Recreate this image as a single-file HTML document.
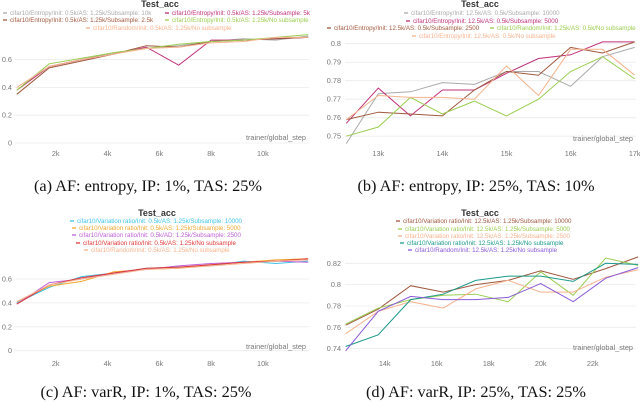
<!DOCTYPE html>
<html><head><meta charset="utf-8"><style>
html,body{margin:0;padding:0;background:#fff;}
svg{display:block;font-family:"Liberation Sans",sans-serif;}
.cap{font-family:"Liberation Serif",serif;font-size:16.3px;fill:#111;}
.tk{font-size:7.3px;fill:#777;}
.lg{font-size:6.2px;}
.ttl{font-size:9px;fill:#333;font-weight:bold;}
</style></head><body>
<svg id="fig" width="640" height="402" viewBox="0 0 640 402"></svg>
<script>
// ---- data ----
const stepsA = [0.5,1.75,3,4.25,5.5,6.75,8,9.25,10.5,11.75];
const stepsB = [12.5,13,13.5,14,14.5,15,15.5,16,16.5,17];
const stepsD = [12.5,13.75,15,16.25,17.5,18.75,20,21.25,22.5,23.75];
const aGray  = [0.38,0.55,0.60,0.65,0.68,0.70,0.73,0.75,0.74,0.77];
const aPink  = [0.38,0.55,0.60,0.64,0.69,0.56,0.74,0.74,0.75,0.76];
const aBrown = [0.35,0.54,0.59,0.64,0.70,0.69,0.73,0.74,0.75,0.76];
const aGreen = [0.38,0.57,0.61,0.65,0.68,0.71,0.73,0.74,0.76,0.78];
const aBeige = [0.40,0.55,0.60,0.64,0.68,0.69,0.72,0.73,0.76,0.76];
const bGray  = [0.746,0.773,0.774,0.779,0.778,0.785,0.785,0.777,0.793,0.798];
const bPink  = [0.757,0.776,0.761,0.775,0.775,0.784,0.792,0.794,0.801,0.801];
const bBrown = [0.759,0.763,0.762,0.761,0.775,0.785,0.783,0.798,0.795,0.801];
const bGreen = [0.750,0.755,0.771,0.762,0.769,0.761,0.770,0.785,0.793,0.781];
const bBeige = [0.759,0.772,0.771,0.771,0.770,0.788,0.772,0.797,0.797,0.783];
const cCyan  = [0.40,0.53,0.62,0.65,0.69,0.70,0.71,0.75,0.73,0.75];
const cOrange= [0.41,0.54,0.58,0.66,0.68,0.69,0.72,0.74,0.76,0.77];
const cPurple= [0.39,0.57,0.60,0.65,0.68,0.71,0.73,0.74,0.75,0.74];
const cRed   = [0.39,0.55,0.61,0.65,0.69,0.70,0.72,0.74,0.75,0.77];
const cBeige = [0.41,0.55,0.60,0.64,0.68,0.69,0.71,0.73,0.75,0.76];
const dBrown = [0.762,0.777,0.799,0.793,0.800,0.804,0.813,0.805,0.815,0.826];
const dGreen = [0.763,0.778,0.786,0.790,0.791,0.784,0.812,0.790,0.825,0.818];
const dBeige = [0.754,0.775,0.784,0.778,0.796,0.804,0.793,0.793,0.807,0.814];
const dTeal  = [0.742,0.753,0.786,0.791,0.804,0.808,0.808,0.803,0.820,0.819];
const dPurple= [0.738,0.775,0.789,0.786,0.786,0.788,0.801,0.784,0.806,0.816];
const yTicksA = [0,0.2,0.4,0.6];
const yTicksB = [0.75,0.76,0.77,0.78,0.79,0.8];
const yTicksD = [0.74,0.76,0.78,0.8,0.82];
const xTicksA = [2,4,6,8,10];
const xTicksB = [13,14,15,16,17];
const xTicksD = [14,16,18,20,22];

const NS="http://www.w3.org/2000/svg", svg=document.getElementById('fig');
function el(t,a,p){const e=document.createElementNS(NS,t);for(const k in a)e.setAttribute(k,a[k]);(p||svg).appendChild(e);return e;}

function panel(P){
  const g=el('g',{});
  
  
  const X=P.x, Y=P.y;
  P.yt.forEach(v=>{
    const l=el('line',{x1:P.l,x2:P.r,y1:Y(v),y2:Y(v),stroke:'#ececec','stroke-width':0.8},g);
    
    
    const t=el('text',{x:P.yl,y:Y(v)+2.5,'text-anchor':'end',class:'tk'},g);
    t.textContent=P.fmt(v);
    
    
  });
  P.xt.forEach(v=>{
    const t=el('text',{x:X(v),y:P.xly,'text-anchor':'middle',class:'tk'},g);
    t.textContent=v+'k';
    
    
  });
  const xl=el('text',{x:P.r-3,y:P.xay,'text-anchor':'end',class:'tk'},g);
  xl.textContent='trainer/global_step';
  
  
  const tt=el('text',{x:P.tx,y:P.ty,'text-anchor':'middle',class:'ttl'},g);
  tt.textContent='Test_acc';
  
  
  P.series.forEach(s=>{
    const pts=s.v.map((v,i)=>X(P.steps[i]).toFixed(1)+','+Y(v).toFixed(1)).join(' ');
    const pl=el('polyline',{points:pts,fill:'none',stroke:s.c,'stroke-width':1},g);
    
    
    const lg=el('g',{},g);
    
    
    el('line',{x1:s.lx,x2:s.lx+4,y1:s.ly-2,y2:s.ly-2,stroke:s.c,'stroke-width':1.3},lg);
    const lt=el('text',{x:s.lx+7,y:s.ly,class:'lg',fill:s.c},lg);
    lt.textContent=s.n;
  });
  const cp=el('text',{x:P.cx,y:P.cy,'text-anchor':'middle',class:'cap'},g);
  cp.textContent=P.cap;
  
  
}
const f1=v=>v===0?'0':v.toFixed(1), f2=v=>String(+v.toFixed(2));
panel({name:'panel-a',l:14,r:309,yl:12,x:k=>3.9+k*25.9,y:v=>143-v*139,yt:yTicksA,xt:xTicksA,fmt:f1,xly:156,xay:140,tx:160,ty:7,steps:stepsA,cx:148,cy:191,cap:'(a) AF: entropy, IP: 1%, TAS: 25%',
 series:[
 {n:'cifar10/Entropy/Init: 0.5k/AS: 1.25k/Subsample: 10k',c:'#aaaaaa',v:aGray,lx:3,ly:15},
 {n:'cifar10/Entropy/Init: 0.5k/AS: 1.25k/Subsample: 5k',c:'#c0307a',v:aPink,lx:165,ly:15},
 {n:'cifar10/Entropy/Init: 0.5k/AS: 1.25k/Subsample: 2.5k',c:'#a0583e',v:aBrown,lx:3,ly:22},
 {n:'cifar10/Entropy/Init: 0.5k/AS: 1.25k/No subsample',c:'#9acd50',v:aGreen,lx:165,ly:22},
 {n:'cifar10/Random/Init: 0.5k/AS: 1.25k/No subsample',c:'#f6b38e',v:aBeige,lx:86,ly:30}]});
panel({name:'panel-b',l:345,r:636,yl:341,x:k=>378.3+(k-13)*64.1,y:v=>43.7+(0.8-v)*1850,yt:yTicksB,xt:xTicksB,fmt:f2,xly:156,xay:141,tx:480,ty:7,steps:stepsB,cx:476,cy:191,cap:'(b) AF: entropy, IP: 25%, TAS: 10%',
 series:[
 {n:'cifar10/Entropy/Init: 12.5k/AS: 0.5k/Subsample: 10000',c:'#aaaaaa',v:bGray,lx:404,ly:15},
 {n:'cifar10/Entropy/Init: 12.5k/AS: 0.5k/Subsample: 5000',c:'#c0307a',v:bPink,lx:406,ly:23},
 {n:'cifar10/Entropy/Init: 12.5k/AS: 0.5k/Subsample: 2500',c:'#a0583e',v:bBrown,lx:327,ly:30},
 {n:'cifar10/Random/Init: 1.25k/AS: 0.5k/No subsample',c:'#9acd50',v:bGreen,lx:490,ly:30},
 {n:'cifar10/Entropy/Init: 12.5k/AS: 0.5k/No subsample',c:'#f6b38e',v:bBeige,lx:412,ly:38}]});
panel({name:'panel-c',l:14,r:309,yl:12,x:k=>3.9+k*25.9,y:v=>350.7-v*119.5,yt:yTicksA,xt:xTicksA,fmt:f1,xly:366,xay:349,tx:157,ty:216,steps:stepsA,cx:146,cy:397,cap:'(c) AF: varR, IP: 1%, TAS: 25%',
 series:[
 {n:'cifar10/Variation ratio/Init: 0.5k/AS: 1.25k/Subsample: 10000',c:'#3fc4e8',v:cCyan,lx:70,ly:223},
 {n:'cifar10/Variation ratio/Init: 0.5k/AS: 1.25k/Subsample: 5000',c:'#f0a830',v:cOrange,lx:72,ly:230},
 {n:'cifar10/Variation ratio/Init: 0.5k/AD: 1.25k/Subsample: 2500',c:'#c060d8',v:cPurple,lx:72,ly:237},
 {n:'cifar10/Variation ratio/Init: 0.5k/AS: 1.25k/No subsample',c:'#e03838',v:cRed,lx:76,ly:245},
 {n:'cifar10/Random/Init: 0.5k/AS: 1.25k/No subsample',c:'#f6b38e',v:cBeige,lx:84,ly:252}]});
panel({name:'panel-d',l:345,r:636,yl:341,x:k=>384.7+(k-14)*26,y:v=>263.3+(0.82-v)*1067,yt:yTicksD,xt:xTicksD,fmt:f2,xly:366,xay:350,tx:480,ty:216,steps:stepsD,cx:476,cy:397,cap:'(d) AF: varR, IP: 25%, TAS: 25%',
 series:[
 {n:'cifar10/Variation ratio/Init: 12.5k/AS: 1.25k/Subsample: 10000',c:'#a0583e',v:dBrown,lx:396,ly:223},
 {n:'cifar10/Variation ratio/Init: 12.5k/AS: 1.25k/Subsample: 5000',c:'#9acd50',v:dGreen,lx:398,ly:231},
 {n:'cifar10/Variation ratio/Init: 12.5k/AS: 1.25k/Subsample: 2500',c:'#f6b38e',v:dBeige,lx:398,ly:238},
 {n:'cifar10/Variation ratio/Init: 12.5k/AS: 1.25k/No subsample',c:'#1a9a8a',v:dTeal,lx:400,ly:245},
 {n:'cifar10/Random/Init: 12.5k/AS: 1.25k/No subsample',c:'#8a5ad8',v:dPurple,lx:408,ly:252}]});
</script>
</body></html>
